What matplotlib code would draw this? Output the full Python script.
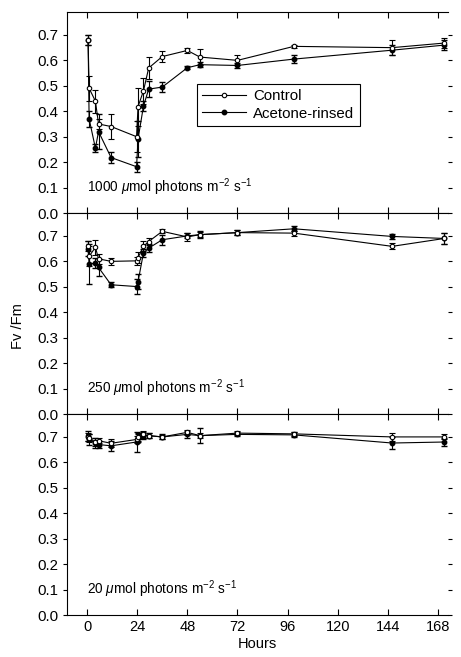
import numpy as np
from matplotlib import pyplot as plt
from matplotlib.lines import Line2D

plt.rcParams['font.family'] = ['Liberation Sans', 'DejaVu Sans']
plt.rcParams['mathtext.fontset'] = 'custom'
plt.rcParams['mathtext.rm'] = 'Liberation Sans'
plt.rcParams['mathtext.it'] = 'Liberation Sans:italic'
plt.rcParams['font.size'] = 10.5

#---------------------------------------------------------
# Sampling times (hours)
hours = [0.5, 1, 4, 5.5, 11.5, 23.7, 24.4, 27, 29.5, 36, 48, 54, 72, 99, 146, 171]

# 1000 umol photons
hi_ctrl = [0.68, 0.49, 0.44, 0.35, 0.34, 0.30, 0.418, 0.48, 0.57, 0.615, 0.639, 0.613, 0.60, 0.655, 0.65, 0.668]
hi_ctrl_err = [0.02, 0.05, 0.045, 0.02, 0.05, 0.06, 0.075, 0.05, 0.045, 0.02, 0.01, 0.03, 0.02, 0.005, 0.03, 0.02]
hi_acet = [0.68, 0.37, 0.255, 0.32, 0.218, 0.182, 0.29, 0.42, 0.487, 0.495, 0.571, 0.583, 0.58, 0.605, 0.64, 0.66]
hi_acet_err = [0.02, 0.03, 0.015, 0.07, 0.02, 0.02, 0.07, 0.02, 0.03, 0.02, 0.005, 0.01, 0.01, 0.015, 0.02, 0.02]

# 250 umol photons
mid_ctrl = [0.66, 0.62, 0.655, 0.61, 0.60, 0.602, 0.615, 0.659, 0.678, 0.718, 0.696, 0.705, 0.713, 0.711, 0.659, 0.69]
mid_ctrl_err = [0.02, 0.04, 0.03, 0.02, 0.015, 0.015, 0.02, 0.02, 0.015, 0.008, 0.015, 0.01, 0.01, 0.01, 0.012, 0.02]
mid_acet = [0.65, 0.59, 0.593, 0.576, 0.508, 0.501, 0.52, 0.633, 0.652, 0.685, 0.70, 0.705, 0.713, 0.728, 0.698, 0.69]
mid_acet_err = [0.03, 0.08, 0.02, 0.035, 0.01, 0.03, 0.03, 0.015, 0.015, 0.02, 0.01, 0.015, 0.01, 0.01, 0.01, 0.02]

# 20 umol photons
lo_ctrl = [0.70, 0.695, 0.68, 0.685, 0.675, 0.69, 0.70, 0.71, 0.705, 0.70, 0.718, 0.705, 0.715, 0.712, 0.70, 0.70]
lo_ctrl_err = [0.015, 0.015, 0.015, 0.01, 0.015, 0.015, 0.015, 0.015, 0.01, 0.008, 0.01, 0.01, 0.008, 0.008, 0.015, 0.01]
lo_acet = [0.705, 0.69, 0.675, 0.67, 0.665, 0.68, 0.695, 0.705, 0.705, 0.70, 0.71, 0.705, 0.71, 0.708, 0.676, 0.68]
lo_acet_err = [0.02, 0.02, 0.02, 0.015, 0.02, 0.04, 0.015, 0.015, 0.01, 0.01, 0.015, 0.03, 0.008, 0.01, 0.025, 0.015]

panel_labels = ['1000', '250', '20']
x_ticks = [0, 24, 48, 72, 96, 120, 144, 168]
y_ticks = [0.0, 0.1, 0.2, 0.3, 0.4, 0.5, 0.6, 0.7]

#---------------------------------------------------------
fig, axes = plt.subplots(3, 1, figsize=(4.61, 6.57), dpi=100, sharex=True)
fig.subplots_adjust(left=0.1453, right=0.972, bottom=0.0639, top=0.9817, hspace=0)

data = [(hi_ctrl, hi_ctrl_err, hi_acet, hi_acet_err),
        (mid_ctrl, mid_ctrl_err, mid_acet, mid_acet_err),
        (lo_ctrl, lo_ctrl_err, lo_acet, lo_acet_err)]

for i, ax in enumerate(axes):
    c, ce, a, ae = data[i]
    ax.errorbar(hours, c, yerr=ce, color='black', marker='o', markersize=3.2,
                markerfacecolor='white', markeredgewidth=0.8, linewidth=0.8,
                elinewidth=0.8, capsize=2.5, zorder=3)
    ax.errorbar(hours, a, yerr=ae, color='black', marker='o', markersize=3.2,
                markerfacecolor='black', linewidth=0.8, elinewidth=0.8,
                capsize=2.5, zorder=2)

    ax.set_xlim(-9.6, 172.8)
    ax.set_ylim(0, 0.79)
    ax.set_yticks(y_ticks)
    ax.set_yticklabels(['%.1f' % v for v in y_ticks])
    ax.set_xticks(x_ticks)
    ax.tick_params(axis='x', direction='in', top=True, bottom=True, length=4, width=0.8,
                   labelsize=10.5)
    ax.tick_params(axis='y', direction='out', left=True, right=True, length=3, width=0.8,
                   labelsize=10.8, pad=3)
    ax.spines['right'].set_visible(False)
    for s in ['left', 'top', 'bottom']:
        ax.spines[s].set_linewidth(0.8)

    ax.text(0, 0.1, panel_labels[i] + r' $\mu$mol photons m$^{-2}$ s$^{-1}$',
            ha='left', va='center', fontsize=9.8)

axes[2].set_xticklabels([str(t) for t in x_ticks])
axes[2].set_xlabel('Hours', labelpad=2, fontsize=10.5)
fig.text(18 / 461, 0.504, 'Fv /Fm', rotation=90, ha='center', va='center', fontsize=10.5)

# Legend with plain line + marker handles
handles = [Line2D([], [], color='black', marker='o', markersize=3.2, markerfacecolor='white',
                  markeredgewidth=0.8, linewidth=0.8),
           Line2D([], [], color='black', marker='o', markersize=3.2, markerfacecolor='black',
                  linewidth=0.8)]
leg = axes[0].legend(handles, ['Control', 'Acetone-rinsed'], loc='upper left',
                     bbox_to_anchor=(0.341, 0.644), borderaxespad=0, fancybox=False,
                     edgecolor='black', framealpha=1, handlelength=2.9, handletextpad=0.5,
                     borderpad=0.35, labelspacing=0.25, fontsize=10.8)
leg.get_frame().set_linewidth(0.8)

fig.savefig('out.png', dpi=100)
